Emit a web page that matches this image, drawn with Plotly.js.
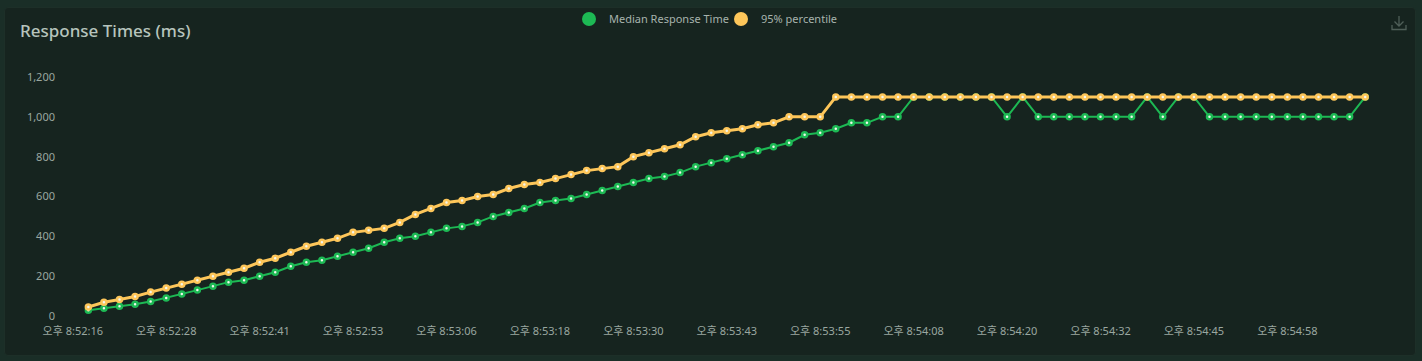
<!DOCTYPE html>
<html>
<head>
<meta charset="utf-8">
<script src="https://cdn.plot.ly/plotly-3.0.1.min.js"></script>
<style>
  html, body { margin: 0; padding: 0; background: #1a2e27; width: 1422px; height: 361px; overflow: hidden; }
  #panel { position: absolute; left: 4px; top: 7px; width: 1410px; height: 347px; background: #16241f; border: 1px solid #1d2f28; border-radius: 4px; }
  #chart { position: absolute; left: 0; top: 0; width: 1422px; height: 361px; }
  #dl { position: absolute; left: 1391px; top: 15px; }
</style>
</head>
<body>
<div id="panel"></div>
<div id="chart"></div>
<svg id="dl" width="16" height="16" viewBox="0 0 16 16">
  <path d="M8 1 V11 M3.5 6.5 L8 11 L12.5 6.5 M1 10 V14.5 H15 V10" fill="none" stroke="#4f5f58" stroke-width="1.3"/>
</svg>
<script>
// category labels (time stamps)
const times = [
  "오후 8:52:16","오후 8:52:18","오후 8:52:20","오후 8:52:22","오후 8:52:24","오후 8:52:26",
  "오후 8:52:28","오후 8:52:30","오후 8:52:32","오후 8:52:35","오후 8:52:37","오후 8:52:39",
  "오후 8:52:41","오후 8:52:43","오후 8:52:45","오후 8:52:47","오후 8:52:49","오후 8:52:51",
  "오후 8:52:53","오후 8:52:55","오후 8:52:57","오후 8:52:59","오후 8:53:01","오후 8:53:03",
  "오후 8:53:06","오후 8:53:08","오후 8:53:10","오후 8:53:12","오후 8:53:14","오후 8:53:16",
  "오후 8:53:18","오후 8:53:20","오후 8:53:22","오후 8:53:24","오후 8:53:26","오후 8:53:28",
  "오후 8:53:30","오후 8:53:32","오후 8:53:35","오후 8:53:37","오후 8:53:39","오후 8:53:41",
  "오후 8:53:43","오후 8:53:45","오후 8:53:47","오후 8:53:49","오후 8:53:51","오후 8:53:53",
  "오후 8:53:55","오후 8:53:57","오후 8:53:59","오후 8:54:01","오후 8:54:03","오후 8:54:06",
  "오후 8:54:08","오후 8:54:10","오후 8:54:12","오후 8:54:14","오후 8:54:16","오후 8:54:18",
  "오후 8:54:20","오후 8:54:22","오후 8:54:24","오후 8:54:26","오후 8:54:28","오후 8:54:30",
  "오후 8:54:32","오후 8:54:34","오후 8:54:36","오후 8:54:39","오후 8:54:41","오후 8:54:43",
  "오후 8:54:45","오후 8:54:47","오후 8:54:49","오후 8:54:51","오후 8:54:53","오후 8:54:56",
  "오후 8:54:58","오후 8:55:00","오후 8:55:02","오후 8:55:04","오후 8:55:06","오후 8:55:08"
];

// Median Response Time (ms)
const median = [
  null, 29, 39, 49, 59, 73, 91, 110, 130, 150,
  170, 180, 200, 220, 250, 270, 280, 300, 320, 340,
  370, 390, 400, 420, 440, 450, 470, 500, 520, 540,
  570, 580, 590, 610, 630, 650, 670, 690, 700, 720,
  750, 770, 790, 810, 830, 850, 870, 910, 920, 940,
  970, 970, 1000, 1000, 1100, 1100, 1100, 1100, 1100, 1100,
  1000, 1100, 1000, 1000, 1000, 1000, 1000, 1000, 1000, 1100,
  1000, 1100, 1100, 1000, 1000, 1000, 1000, 1000, 1000, 1000,
  1000, 1000, 1000, 1100
];

// 95% percentile (ms)
const p95 = [
  null, 45, 69, 83, 98, 120, 140, 160, 180, 200,
  220, 240, 270, 290, 320, 350, 370, 390, 420, 430,
  440, 470, 510, 540, 570, 580, 600, 610, 640, 660,
  670, 690, 710, 730, 740, 750, 800, 820, 840, 860,
  900, 920, 930, 940, 960, 970, 1000, 1000, 1000, 1100,
  1100, 1100, 1100, 1100, 1100, 1100, 1100, 1100, 1100, 1100,
  1100, 1100, 1100, 1100, 1100, 1100, 1100, 1100, 1100, 1100,
  1100, 1100, 1100, 1100, 1100, 1100, 1100, 1100, 1100, 1100,
  1100, 1100, 1100, 1100
];

const seriesNames = ["Median Response Time", "95% percentile"];
const seriesColors = ["#1db954", "#fdc65a"];
const yTicks = [0, 200, 400, 600, 800, 1000, 1200];

const labelEvery = 6;
const labelVals = times.filter((t, i) => i % labelEvery === 0);
const n = times.length;
const boundaryTicks = [];
for (let i = 0; i <= n; i += labelEvery) boundaryTicks.push(i - 0.5);
if (boundaryTicks[boundaryTicks.length - 1] !== n - 0.5) boundaryTicks.push(n - 0.5);

const FONT = '"Noto Sans", "Noto Sans CJK KR", sans-serif';

function lineTrace(y, k, w) {
  return {
    type: 'scatter', mode: 'lines+markers', x: times, y: y,
    name: seriesNames[k], showlegend: false, legendgroup: 'g' + k,
    line: { color: seriesColors[k], width: w },
    marker: { symbol: 'circle', size: 5, color: '#f2f6ef', line: { color: seriesColors[k], width: 2.5 } },
    connectgaps: false, cliponaxis: false,
    hovertemplate: '%{x}<br>' + seriesNames[k] + ': %{y}<extra></extra>'
  };
}
function legendTrace(k) {
  return {
    type: 'scatter', mode: 'markers', x: [null], y: [null],
    name: seriesNames[k], legendgroup: 'g' + k, showlegend: true,
    marker: { symbol: 'circle', size: 14, color: seriesColors[k] }
  };
}

const data = [
  lineTrace(median, 0, 2),
  lineTrace(p95, 1, 3),
  legendTrace(0),
  legendTrace(1)
];

const layout = {
  width: 1422, height: 361,
  margin: { l: 65, r: 49, t: 77, b: 45 },
  paper_bgcolor: 'rgba(0,0,0,0)',
  plot_bgcolor: 'rgba(0,0,0,0)',
  font: { family: FONT, color: '#9aa7a0', size: 11 },
  title: {
    text: 'Response Times (ms)',
    font: { family: FONT, size: 17, color: '#b7c4bd', weight: 500 },
    x: 20 / 1422, xref: 'container', xanchor: 'left',
    y: 1 - 31 / 361, yref: 'container', yanchor: 'middle'
  },
  showlegend: true,
  legend: {
    orientation: 'h',
    xref: 'container', x: 721 / 1422, xanchor: 'center',
    yref: 'container', y: 1 - 19 / 361, yanchor: 'middle',
    entrywidthmode: 'pixels', entrywidth: 107,
    font: { family: FONT, size: 11, color: '#a7b3ad' },
    bgcolor: 'rgba(0,0,0,0)', itemclick: false, itemdoubleclick: false
  },
  xaxis: {
    type: 'category', range: [-0.5, n - 0.5], fixedrange: true,
    tickmode: 'array', tickvals: labelVals, ticktext: labelVals,
    ticks: '', showgrid: false, zeroline: false, showline: false,
    tickfont: { family: FONT, size: 11, color: '#9aa7a0' },
    ticklabelstandoff: 7
  },
  xaxis2: {
    overlaying: 'x', anchor: 'y', type: 'linear', range: [-0.5, n - 0.5], fixedrange: true,
    tickmode: 'array', tickvals: boundaryTicks, showticklabels: false,
    ticks: 'outside', ticklen: 5, tickwidth: 1, tickcolor: '#5f6e67',
    showline: true, linecolor: '#5f6e67', linewidth: 1,
    showgrid: false, zeroline: false
  },
  yaxis: {
    range: [0, 1200], fixedrange: true,
    tickmode: 'array', tickvals: yTicks, tickformat: ',d',
    showgrid: false, zeroline: false, showline: false, ticks: '',
    tickfont: { family: FONT, size: 11, color: '#9aa7a0' },
    ticklabelstandoff: 9
  },
  hovermode: 'x'
};

Plotly.newPlot('chart', data, layout, { displayModeBar: false, responsive: false });
</script>
</body>
</html>
